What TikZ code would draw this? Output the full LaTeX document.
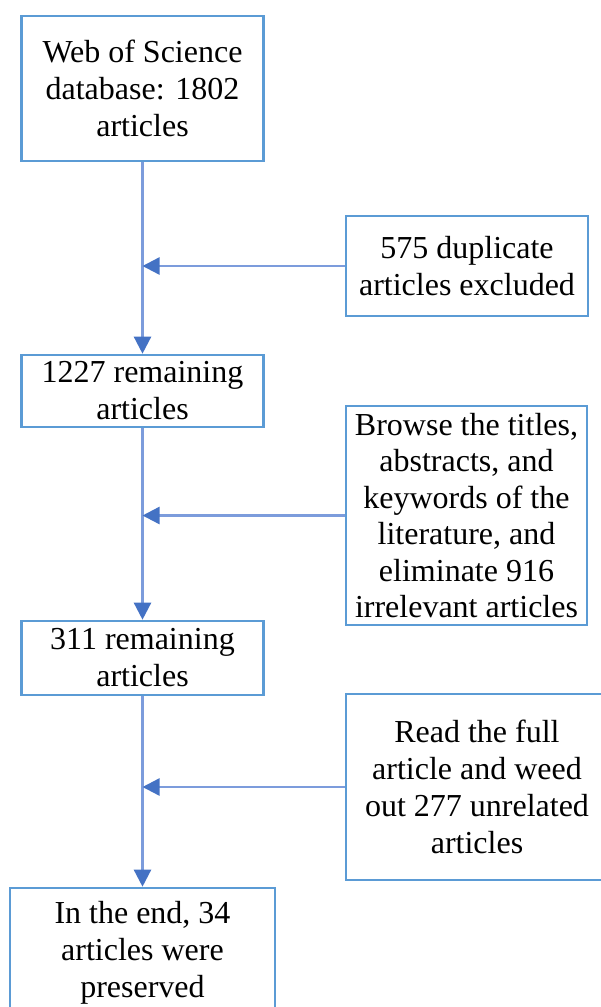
\documentclass[tikz,border=0pt]{standalone}
\usepackage{fontspec}
\setmainfont{Liberation Serif}
\usetikzlibrary{arrows.meta}
\definecolor{boxblue}{HTML}{5B9BD5}
\definecolor{linkblue}{HTML}{4472C4}
\definecolor{linkline}{HTML}{7C9CDC}
\begin{document}
\begin{tikzpicture}[x=1pt,y=-1pt,
  box/.style={draw=boxblue, line width=2.6pt, fill=white, inner sep=0pt,
    align=center, font=\fontsize{32}{37}\selectfont},
  link/.style={draw=linkline, line width=2.4pt,
    -{Triangle[length=17pt,width=17pt,color=linkblue,fill=linkblue]}}]
\useasboundingbox (0,0) rectangle (601,1007);

% main column
\node[box, minimum width=242pt, minimum height=145pt] (b1) at (142.5,88.5)
  {Web of Science\\database: 1802\\articles};
\node[box, minimum width=242pt, minimum height=72pt] (b3) at (142.5,391)
  {1227 remaining\\articles};
\node[box, minimum width=242pt, minimum height=74pt] (b5) at (142.5,658)
  {311 remaining\\articles};
\node[box, minimum width=265pt, minimum height=130pt] (b7) at (142.5,953)
  {In the end, 34\\articles were\\preserved};

% exclusion boxes
\node[box, minimum width=242pt, minimum height=100pt] (b2) at (467,266)
  {575 duplicate\\articles excluded};
\node[box, minimum width=241pt, minimum height=219pt, font=\fontsize{32}{36.5}\selectfont] (b4) at (466.5,515.5)
  {Browse the titles,\\abstracts, and\\keywords of the\\literature, and\\eliminate 916\\irrelevant articles};
\node[box, minimum width=262pt, minimum height=186pt] (b6) at (477,787)
  {Read the full\\article and weed\\out 277 unrelated\\articles};

% connectors
\draw[link] (b1.south) -- (b3.north);
\draw[link] (b3.south) -- (b5.north);
\draw[link] (b5.south) -- (b7.north);
\draw[link] (b2.west) -- (b2.west -| b1.center);
\draw[link] (b4.west) -- (b4.west -| b1.center);
\draw[link] (b6.west) -- (b6.west -| b1.center);
\end{tikzpicture}
\end{document}
